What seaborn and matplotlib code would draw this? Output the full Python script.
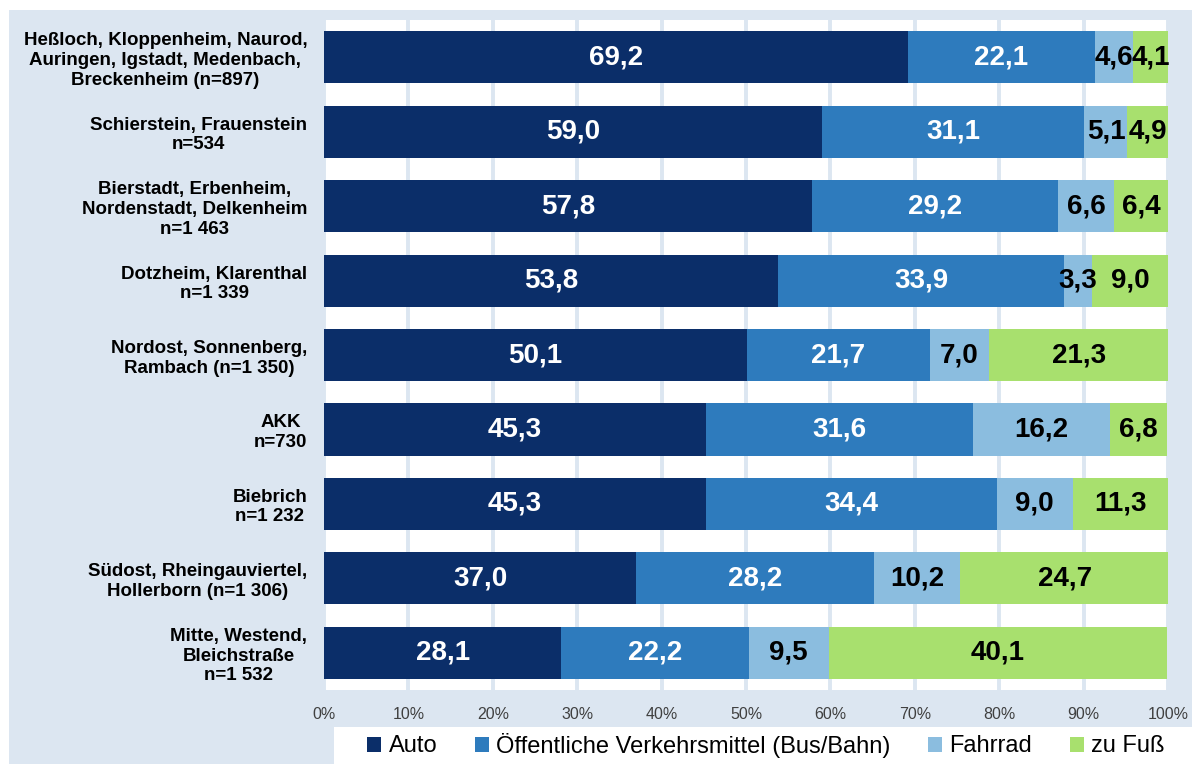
import matplotlib
matplotlib.use("Agg")
import matplotlib.pyplot as plt
from matplotlib.patches import Rectangle, Patch
import seaborn as sns
import pandas as pd
import numpy as np

categories = [
    "Heßloch, Kloppenheim, Naurod,\nAuringen, Igstadt, Medenbach,\nBreckenheim (n=897)",
    "Schierstein, Frauenstein\nn=534",
    "Bierstadt, Erbenheim,\nNordenstadt, Delkenheim\nn=1 463",
    "Dotzheim, Klarenthal\nn=1 339",
    "Nordost, Sonnenberg,\nRambach (n=1 350)",
    "AKK\nn=730",
    "Biebrich\nn=1 232",
    "Südost, Rheingauviertel,\nHollerborn (n=1 306)",
    "Mitte, Westend,\nBleichstraße\nn=1 532",
]
series_names = ["Auto", "Öffentliche Verkehrsmittel (Bus/Bahn)", "Fahrrad", "zu Fuß"]
auto = [69.2, 59.0, 57.8, 53.8, 50.1, 45.3, 45.3, 37.0, 28.1]
oev = [22.1, 31.1, 29.2, 33.9, 21.7, 31.6, 34.4, 28.2, 22.2]
fahrrad = [4.6, 5.1, 6.6, 3.3, 7.0, 16.2, 9.0, 10.2, 9.5]
fuss = [4.1, 4.9, 6.4, 9.0, 21.3, 6.8, 11.3, 24.7, 40.1]
xtick_labels = [f"{v}%" for v in range(0, 101, 10)]

colors = ["#0b2e69", "#2e7bbd", "#8bbddf", "#a8e06e"]
label_colors = ["white", "white", "black", "black"]

plt.rcParams["font.family"] = ["Liberation Sans", "DejaVu Sans"]

fig = plt.figure(figsize=(11.92, 7.64), dpi=100)
fig.patch.set_facecolor("white")
fig.patches.append(Rectangle((9 / 1192, 0), 1 - 9 / 1192, 1 - 10 / 764,
                             transform=fig.transFigure, facecolor="#dce6f1",
                             edgecolor="none", zorder=-10))
fig.patches.append(Rectangle((334 / 1192, 0), 1 - 334 / 1192, 37 / 764,
                             transform=fig.transFigure, facecolor="white",
                             edgecolor="none", zorder=-9))

ax = fig.add_axes([324 / 1192, 1 - 690 / 764, (1168 - 324) / 1192, (690 - 20) / 764])
ax.set_facecolor("white")
ax.set_zorder(1)

vals = np.array([auto, oev, fahrrad, fuss])
cum = np.cumsum(vals, axis=0)
df = pd.DataFrame({"cat": categories})
for i in range(3, -1, -1):
    df["v"] = cum[i]
    sns.barplot(data=df, x="v", y="cat", orient="h", color=colors[i],
                saturation=1, width=0.7, ax=ax, zorder=2, linewidth=0)

for i in range(4):
    for j in range(len(categories)):
        xc = cum[i][j] - vals[i][j] / 2
        ax.text(xc, j, f"{vals[i][j]:.1f}".replace(".", ","), ha="center",
                va="center", color=label_colors[i], fontsize=20,
                fontweight="bold", zorder=5)

ax.set_xlim(0, 100)
ax.set_ylim(len(categories) - 0.5, -0.5)
ax.set_xticks(range(0, 101, 10))
ax.set_xticklabels(xtick_labels, fontsize=11.5, color="#404040")
ax.tick_params(axis="x", length=0, pad=12)
ax.tick_params(axis="y", length=0, pad=12)
for lab in ax.get_yticklabels():
    lab.set_multialignment("center")
    lab.set_fontweight("bold")
    lab.set_fontsize(13.5)
    lab.set_linespacing(1.2)
ax.set_xlabel("")
ax.set_ylabel("")
for s in ax.spines.values():
    s.set_visible(False)
ax.grid(axis="x", color="#dce6f1", linewidth=2.8, zorder=0)
ax.grid(axis="y", visible=False)
ax.set_axisbelow(True)

handles = [Patch(facecolor=c, edgecolor="none") for c in colors]
fig.legend(handles, series_names, loc="center", ncol=4,
           bbox_to_anchor=(766 / 1192, 1 - 745 / 764), frameon=False,
           handlelength=0.6, handleheight=0.6, handletextpad=0.3,
           columnspacing=1.6, prop={"size": 17})

fig.savefig("out.png", dpi=100, facecolor="white")
